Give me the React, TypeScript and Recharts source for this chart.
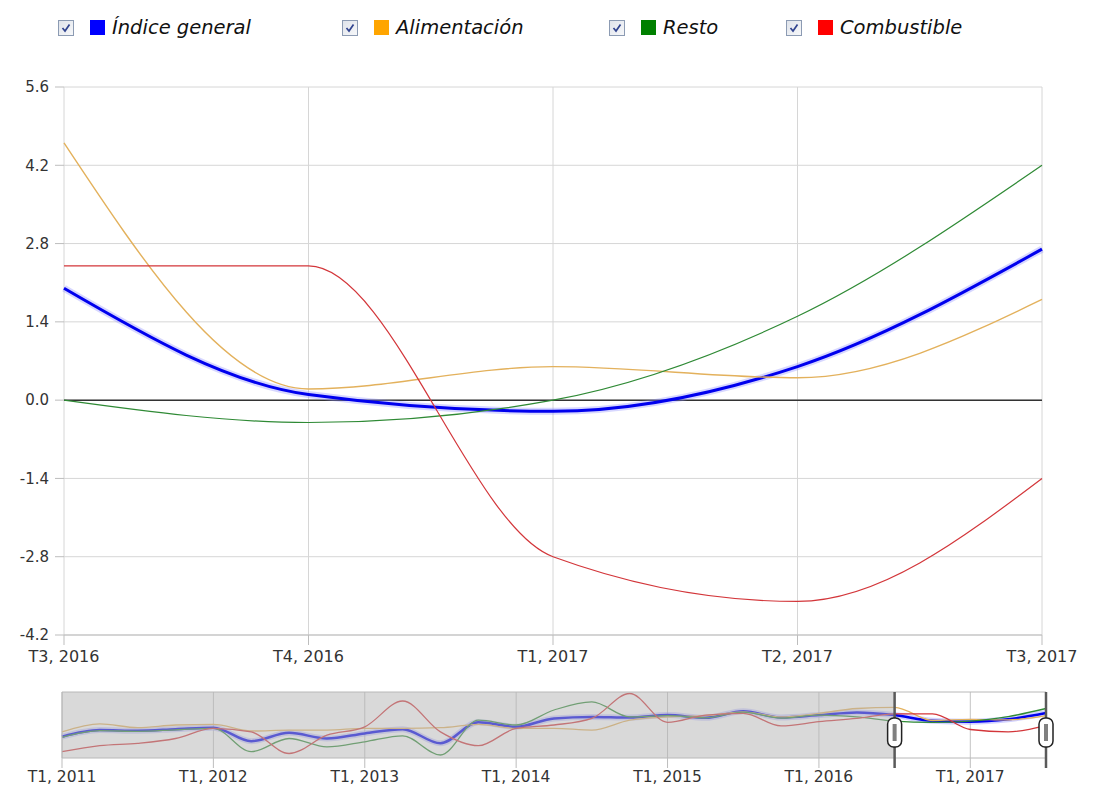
import React from 'react';
import { LineChart, Line, XAxis, YAxis, CartesianGrid, ReferenceLine, ReferenceArea } from 'recharts';

// main chart (selected range T3 2016 .. T3 2017)
const mainCategories = ['T3, 2016', 'T4, 2016', 'T1, 2017', 'T2, 2017', 'T3, 2017'];
const general = [2.0, 0.1, -0.2, 0.6, 2.7];
const alimentacion = [4.6, 0.2, 0.6, 0.4, 1.8];
const resto = [0.0, -0.4, 0.0, 1.5, 4.2];
const combustible = [2.4, 2.4, -2.8, -3.6, -1.4];
const yTicks = [-4.2, -2.8, -1.4, 0, 1.4, 2.8, 4.2, 5.6];

// navigator: quarters T1 2011 .. T3 2017
const navYears = [2011, 2012, 2013, 2014, 2015, 2016, 2017];
const quarters = ['T1', 'T2', 'T3', 'T4'];
const navCategories = navYears.flatMap((y) => quarters.map((q) => `${q}, ${y}`)).slice(0, 27);
const navYearTicks = navYears.map((y) => `T1, ${y}`);

// history before the selected range (T1 2011 .. T2 2016)
const generalHist = [-5.2, -3.0, -3.2, -2.7, -2.2, -6.7, -3.9, -5.8, -4.1, -2.7, -7.4, -0.4, -1.9, 0.9, 1.4, 1.2, 2.0, 1.1, 3.3, 1.2, 2.0, 2.9];
const alimentacionHist = [-3.6, -0.9, -2.2, -1.3, -1.1, -3.3, -3.0, -3.0, -2.4, -2.4, -2.2, -1.1, -2.4, -2.4, -3.0, 0.3, 1.4, 1.8, 3.1, 1.4, 2.6, 4.2];
const restoHist = [-5.4, -3.2, -3.4, -2.9, -2.4, -10.2, -5.8, -8.6, -6.9, -4.9, -11.3, 0.3, -1.3, 3.7, 6.4, 1.4, 1.8, 1.1, 3.0, 1.0, 2.0, 1.4];
const combustibleHist = [-10.2, -8.2, -7.4, -5.8, -2.4, -3.6, -10.8, -4.7, -1.9, 6.7, -3.6, -8.2, -2.4, -1.3, 0.9, 9.2, -0.4, 2.0, 2.6, -1.6, -0.2, 0.9];

const series = [
  { key: 'general', name: 'Índice general', swatch: '#0000ff', color: '#0000ee', width: 3 },
  { key: 'alimentacion', name: 'Alimentación', swatch: '#ffa500', color: '#e3b15c', width: 1.4 },
  { key: 'resto', name: 'Resto', swatch: '#008000', color: '#2f8a35', width: 1.2 },
  { key: 'combustible', name: 'Combustible', swatch: '#ff0000', color: '#d3363a', width: 1.2 },
];

const mainData = mainCategories.map((cat, i) => ({
  cat,
  general: general[i],
  alimentacion: alimentacion[i],
  resto: resto[i],
  combustible: combustible[i],
}));

const navGeneral = [...generalHist, ...general];
const navAlimentacion = [...alimentacionHist, ...alimentacion];
const navResto = [...restoHist, ...resto];
const navCombustible = [...combustibleHist, ...combustible];

const navData = navCategories.map((cat, i) => ({
  cat,
  general: navGeneral[i],
  alimentacion: navAlimentacion[i],
  resto: navResto[i],
  combustible: navCombustible[i],
}));

const legendLeft = [58, 342, 609, 786];
const font = '"DejaVu Sans", Verdana, sans-serif';

function CheckBox() {
  return (
    <svg width={16} height={16} style={{ display: 'block' }}>
      <defs>
        <linearGradient id="cbg" x1="0" y1="0" x2="1" y2="1">
          <stop offset="0" stopColor="#dfe3ea" />
          <stop offset="1" stopColor="#f7f8fa" />
        </linearGradient>
      </defs>
      <rect x={0.5} y={0.5} width={15} height={15} fill="url(#cbg)" stroke="#8c9bb3" />
      <path d="M4.5 8 L7 11 L11.5 4.5" stroke="#31448f" strokeWidth={1.7} fill="none" />
    </svg>
  );
}

function Legend() {
  return (
    <>
      {series.map((s, i) => (
        <div
          key={s.key}
          style={{
            position: 'absolute',
            left: legendLeft[i],
            top: 16,
            display: 'flex',
            alignItems: 'center',
            fontFamily: font,
            fontStyle: 'italic',
            fontSize: 19.5,
            color: '#111',
            whiteSpace: 'nowrap',
          }}
        >
          <CheckBox />
          <span style={{ display: 'inline-block', width: 15, height: 15, background: s.swatch, marginLeft: 16, marginRight: 7 }} />
          <span>{s.name}</span>
        </div>
      ))}
    </>
  );
}

const Handle = (p: any) => {
  const x = p.x1;
  const top = Math.min(p.y1, p.y2);
  const bottom = Math.max(p.y1, p.y2);
  const mid = (top + bottom) / 2;
  return (
    <g>
      <line x1={x} x2={x} y1={top} y2={bottom + 10} stroke="#5a5a5a" strokeWidth={2.5} />
      <rect x={x - 7} y={mid - 7} width={14} height={29} rx={6} fill="#fff" stroke="#222" strokeWidth={1.5} />
      <rect x={x - 2} y={mid - 1} width={4} height={17} fill="#808080" />
    </g>
  );
};

const fmt = (v: number) => v.toFixed(1);

export default function App() {
  return (
    <div style={{ position: 'absolute', left: 0, top: 0, width: 1094, height: 791, background: '#fff', fontFamily: font }}>
      <Legend />

      <div style={{ position: 'absolute', left: 0, top: 0 }}>
        <LineChart width={1094} height={680} data={mainData} margin={{ top: 87, right: 0, bottom: 0, left: 4 }}>
          <CartesianGrid stroke="#d6d6d6" />
          <XAxis
            dataKey="cat"
            interval={0}
            height={45}
            tickSize={10}
            tickMargin={6}
            axisLine={{ stroke: '#bdbdbd' }}
            tickLine={{ stroke: '#bdbdbd' }}
            tick={{ fill: '#333', fontSize: 16, fontFamily: font }}
          />
          <YAxis
            domain={[-4.2, 5.6]}
            ticks={yTicks}
            tickFormatter={fmt}
            width={60}
            tickSize={9}
            tickMargin={6}
            axisLine={false}
            tickLine={{ stroke: '#bdbdbd' }}
            tick={{ fill: '#333', fontSize: 15, fontFamily: font }}
          />
          <YAxis
            yAxisId="right"
            orientation="right"
            domain={[-4.2, 5.6]}
            ticks={yTicks}
            tickFormatter={fmt}
            width={52}
            tickSize={9}
            tickMargin={6}
            axisLine={false}
            tickLine={{ stroke: '#bdbdbd' }}
            tick={{ fill: '#333', fontSize: 15, fontFamily: font }}
          />
          <ReferenceLine y={0} stroke="#333" strokeWidth={1.5} />
          <Line type="monotone" dataKey="general" stroke="#8c8cff" strokeOpacity={0.35} strokeWidth={7} dot={false} isAnimationActive={false} />
          {series.map((s) => (
            <Line
              key={s.key}
              type="monotone"
              dataKey={s.key}
              name={s.name}
              stroke={s.color}
              strokeWidth={s.width}
              dot={false}
              isAnimationActive={false}
            />
          ))}
        </LineChart>
      </div>

      <div style={{ position: 'absolute', left: 0, top: 680 }}>
        <LineChart width={1094} height={111} data={navData} margin={{ top: 12, right: 48, bottom: 0, left: 62 }}>
          <YAxis hide domain={[-12.3, 9.7]} />
          <XAxis
            dataKey="cat"
            interval={3}
            height={33}
            tickSize={10}
            tickMargin={3}
            axisLine={false}
            tickLine={{ stroke: '#bdbdbd' }}
            tick={{ fill: '#333', fontSize: 15.5, fontFamily: font }}
          />
          {navYearTicks.map((t) => (
            <ReferenceLine key={t} x={t} stroke="#c4c4c4" />
          ))}
          <Line type="monotone" dataKey="general" stroke="#9a9aff" strokeOpacity={0.45} strokeWidth={6} dot={false} isAnimationActive={false} />
          {series.map((s) => (
            <Line
              key={s.key}
              type="monotone"
              dataKey={s.key}
              stroke={s.color}
              strokeWidth={s.key === 'general' ? 2.5 : 1.3}
              dot={false}
              isAnimationActive={false}
            />
          ))}
          <ReferenceArea
            x1={navCategories[0]}
            x2={navCategories[22]}
            fill="#b4b4b4"
            fillOpacity={0.5}
            stroke="none"
            zIndex={450}
          />
          <ReferenceArea
            x1={navCategories[0]}
            x2={navCategories[26]}
            fill="none"
            stroke="#b8b8b8"
            zIndex={460}
          />
          <ReferenceLine x={navCategories[22]} shape={Handle} zIndex={470} />
          <ReferenceLine x={navCategories[26]} shape={Handle} zIndex={470} />
        </LineChart>
      </div>
    </div>
  );
}
